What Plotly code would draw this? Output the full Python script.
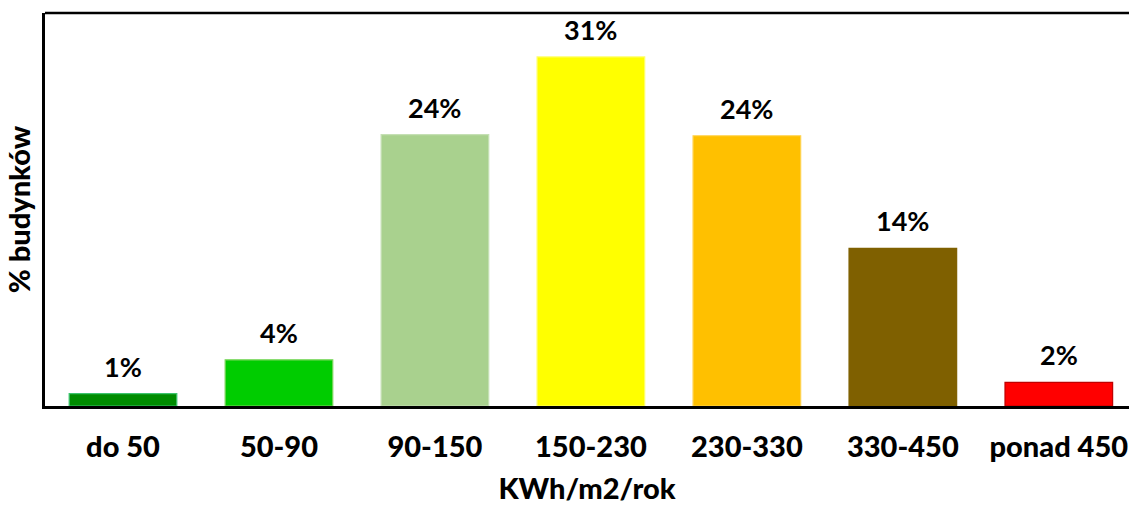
import plotly.graph_objects as go

categories = ["do 50", "50-90", "90-150", "150-230", "230-330", "330-450", "ponad 450"]
values = [1.1, 4.1, 24.1, 31.0, 24.0, 14.0, 2.1]
labels = ["1%", "4%", "24%", "31%", "24%", "14%", "2%"]
fill_colors = ["#008C00", "#00CC00", "#A9D18E", "#FFFF00", "#FFC000", "#7F6000", "#FF0000"]
line_colors = ["#3CC46E", "#7AD65A", "#C5E0B4", "#FFFF66", "#FFD24D", "#7F6000", "#C00000"]

FONT = "Lato"

fig = go.Figure()
fig.add_trace(go.Bar(
    x=categories, y=values, width=0.69,
    marker=dict(color=fill_colors, line=dict(color=line_colors, width=1.2)),
    hoverinfo="skip",
))

for c, v, t in zip(categories, values, labels):
    fig.add_annotation(x=c, y=v, text=f"<b>{t}</b>", showarrow=False,
                       yanchor="bottom", yshift=9,
                       font=dict(family=FONT, size=27, color="black", weight=900))

fig.add_shape(type="line", xref="paper", yref="paper", x0=0, x1=1, y0=1, y1=1,
              line=dict(color="black", width=2.5))

fig.update_layout(
    width=1129, height=508,
    margin=dict(l=45, r=0, t=13, b=102),
    plot_bgcolor="white", paper_bgcolor="white",
    showlegend=False,
    bargap=0.3,
    font=dict(family=FONT, color="black"),
    xaxis=dict(
        range=[-0.5, 6.45], automargin=False,
        showline=True, linecolor="black", linewidth=2.5,
        ticks="", showgrid=False, zeroline=False,
        tickfont=dict(family=FONT, size=29, color="black", weight=900),
        ticklabelstandoff=13,
        title=dict(text="KWh/m2/rok", font=dict(family=FONT, size=29, color="black", weight=900), standoff=18),
    ),
    yaxis=dict(
        range=[0, 34.9], automargin=False,
        showline=True, linecolor="black", linewidth=2.5,
        showticklabels=False, ticks="", showgrid=False, zeroline=False,
        title=dict(text="% budynków", font=dict(family=FONT, size=29, color="black", weight=900), standoff=4),
    ),
)

fig.write_html("out.html", config={"displayModeBar": False},
               post_script="document.body.style.margin='0';document.body.style.overflow='hidden';")
